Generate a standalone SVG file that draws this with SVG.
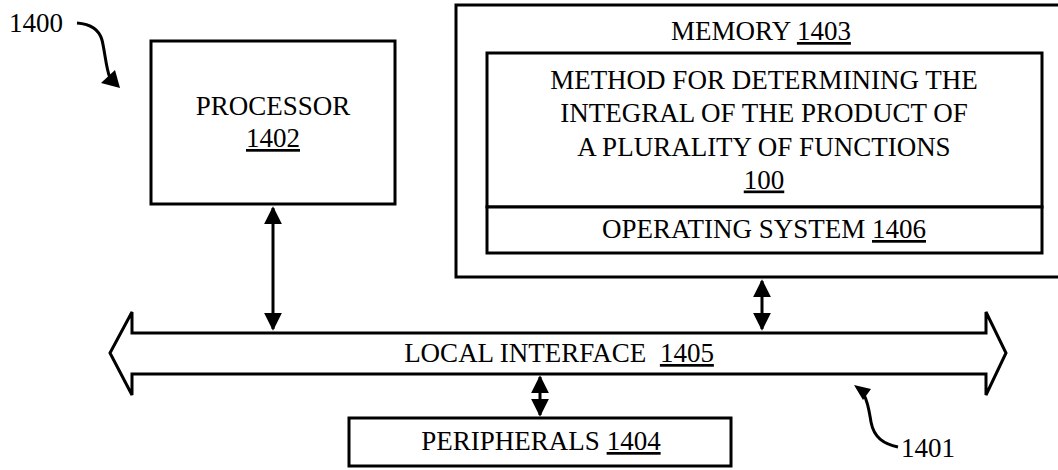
<svg xmlns="http://www.w3.org/2000/svg" width="1058" height="470" viewBox="0 0 1058 470">
<style>
text{font-family:"Liberation Serif","Times New Roman",serif;font-size:27px;fill:#000;text-anchor:middle}
.u{text-decoration:underline}
.box{fill:#fff;stroke:#000;stroke-width:3}
.ln{fill:none;stroke:#000;stroke-width:3}
</style>
<defs>
<marker id="ah" viewBox="0 0 10 10" refX="9" refY="5" markerWidth="6" markerHeight="6" markerUnits="strokeWidth" orient="auto-start-reverse"><path d="M0,0 L10,5 L0,10 Z" fill="#000"/></marker>
</defs>
<g id="n1400">
<text x="36" y="32">1400</text>
<path class="ln" d="M77,23 C90,24 99,29 102,40 C105,52 106,68 110,78"/>
<path d="M101,83 L115,70 L120,88 Z" fill="#000"/>
</g>
<g id="processor">
<rect class="box" x="151" y="41" width="244" height="163"/>
<text x="273" y="115">PROCESSOR</text>
<text x="273" y="147"><tspan class="u">1402</tspan></text>
</g>
<g id="memory">
<rect class="box" x="456" y="5" width="616" height="272"/>
<text x="761" y="40">MEMORY <tspan class="u">1403</tspan></text>
<g id="method">
<rect class="box" x="487" y="53" width="555" height="154"/>
<text x="764" y="89">METHOD FOR DETERMINING THE</text>
<text x="764" y="122">INTEGRAL OF THE PRODUCT OF</text>
<text x="764" y="155.5">A PLURALITY OF FUNCTIONS</text>
<text x="764" y="188.5"><tspan class="u">100</tspan></text>
</g>
<g id="os">
<rect class="box" x="487" y="207" width="555" height="46"/>
<text x="764" y="238">OPERATING SYSTEM <tspan class="u">1406</tspan></text>
</g>
</g>
<g id="bus">
<path class="box" d="M110,353 L132,312 L132,333 L986,333 L986,312 L1006,353 L986,395 L986,374 L132,374 L132,395 Z" stroke-width="2.5"/>
<text x="559" y="362" xml:space="preserve">LOCAL INTERFACE  <tspan class="u">1405</tspan></text>
</g>
<g id="n1401">
<text x="928" y="457">1401</text>
<path class="ln" d="M898,447 C884,444 874,438 871,422 C869,410 868,402 864,395"/>
<path d="M854,385 L871,389 L863,400 Z" fill="#000"/>
</g>
<g id="peripherals">
<rect class="box" x="349" y="418" width="382" height="48"/>
<text x="541" y="450">PERIPHERALS <tspan class="u">1404</tspan></text>
</g>
<g id="connectors">
<line class="ln" x1="273" y1="208" x2="273" y2="329" marker-start="url(#ah)" marker-end="url(#ah)"/>
<line class="ln" x1="762" y1="281" x2="762" y2="329" marker-start="url(#ah)" marker-end="url(#ah)"/>
<line class="ln" x1="540" y1="377" x2="540" y2="415" marker-start="url(#ah)" marker-end="url(#ah)"/>
</g>
</svg>
